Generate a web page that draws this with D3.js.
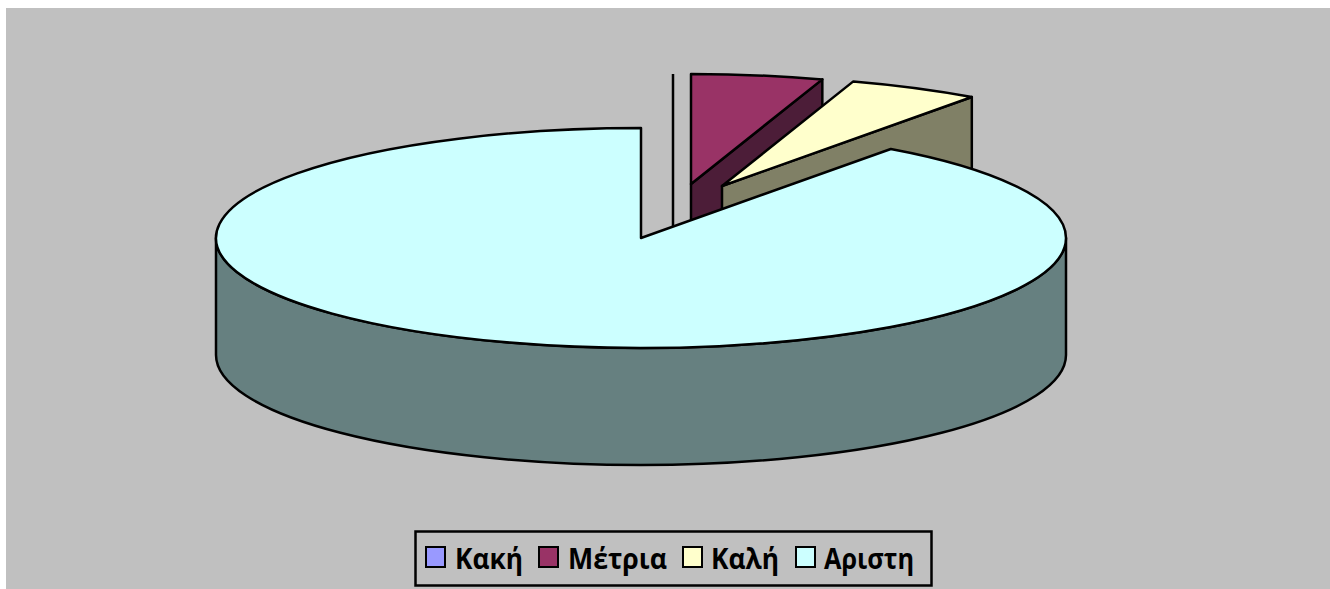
<!DOCTYPE html>
<html><head><meta charset="utf-8">
<script src="https://cdnjs.cloudflare.com/ajax/libs/d3/7.8.5/d3.min.js"></script>
<style>html,body{margin:0;padding:0;background:#fff;overflow:hidden}svg{display:block}</style>
</head><body><svg id="c" width="1330" height="589"></svg>
<script>
const categories = ["Κακή","Μέτρια","Καλή","Αριστη"];
const values = [0,5,5,90];
const topColors = ["#9999FF","#993366","#FFFFCC","#CCFFFF"];
const sideColors = ["#4D4D80","#4C1D38","#808066","#668080"];

const W=1330,H=589,cx=641,cy=238,rx=425,ry=110,depth=117,sw=2.5;
// exploded offset of each slice's apex from the pie centre
const explode=[[32,-54],[50,-54],[81,-52],[0,0]];
const legendText=[[455,68],[568,99],[711,68],[824,90]];
const legendSwatch=[426,539,683,796];

const svg=d3.select("#c");
svg.append("rect").attr("x",6).attr("y",8).attr("width",W-6).attr("height",H-8).attr("fill","#C0C0C0");

const pie=d3.pie().sort(null).value(d=>d).startAngle(0).endAngle(2*Math.PI);
const arcs=pie(values);
const color=d3.scaleOrdinal().domain(categories).range(topColors);
const side=d3.scaleOrdinal().domain(categories).range(sideColors);
const px=a=>rx*Math.sin(a), py=a=>-ry*Math.cos(a);
const g=svg.append("g").attr("stroke","#000").attr("stroke-width",sw).attr("stroke-linejoin","round");

function rimArc(x0,y0,a0,a1){
  // elliptical arc from a0 to a1 (clockwise on screen) around (x0,y0)
  const large=(a1-a0)>Math.PI?1:0, sweep=a1>=a0?1:0;
  return `A${rx},${ry} 0 ${large} ${sweep} ${x0+px(a1)},${y0+py(a1)}`;
}
arcs.forEach((d,i)=>{
  const [ox,oy]=explode[i], x0=cx+ox, y0=cy+oy, name=categories[i];
  const a0=d.startAngle,a1=d.endAngle;
  if(d.value===0){
    g.append("path").attr("fill","none")
      .attr("d",`M${x0},${y0+py(a0)}L${x0},${y0}L${x0},${y0+depth}`);
    return;
  }
  // cut face at the end radius (visible when it faces the viewer)
  if(i<3){
    g.append("path").attr("fill",side(name))
      .attr("d",`M${x0},${y0}L${x0+px(a1)},${y0+py(a1)}L${x0+px(a1)},${y0+py(a1)+depth}L${x0},${y0+depth}Z`);
  } else {
    // outer wall along the front half of the rim
    const s=Math.PI/2,e=3*Math.PI/2;
    g.append("path").attr("fill",side(name))
      .attr("d",`M${x0+px(s)},${y0+py(s)}${rimArc(x0,y0,s,e)}L${x0+px(e)},${y0+py(e)+depth}${rimArc(x0,y0+depth,e,s)}Z`);
  }
  g.append("path").attr("fill",color(name))
    .attr("d",`M${x0},${y0}L${x0+px(a0)},${y0+py(a0)}${rimArc(x0,y0,a0,a1)}Z`);
});

const lg=svg.append("g");
lg.append("rect").attr("x",415.5).attr("y",531.5).attr("width",516).attr("height",54)
  .attr("fill","#C0C0C0").attr("stroke","#000").attr("stroke-width",2.5);
categories.forEach((c,i)=>{
  lg.append("rect").attr("x",legendSwatch[i]).attr("y",547).attr("width",19).attr("height",20)
    .attr("fill",color(c)).attr("stroke","#000").attr("stroke-width",2);
  lg.append("text").attr("x",legendText[i][0]).attr("y",569)
    .attr("textLength",legendText[i][1]).attr("lengthAdjust","spacingAndGlyphs")
    .attr("font-family","'Open Sans','Noto Sans',sans-serif").attr("font-weight",700)
    .attr("font-size",28).attr("fill","#000").text(c);
});
</script></body></html>
